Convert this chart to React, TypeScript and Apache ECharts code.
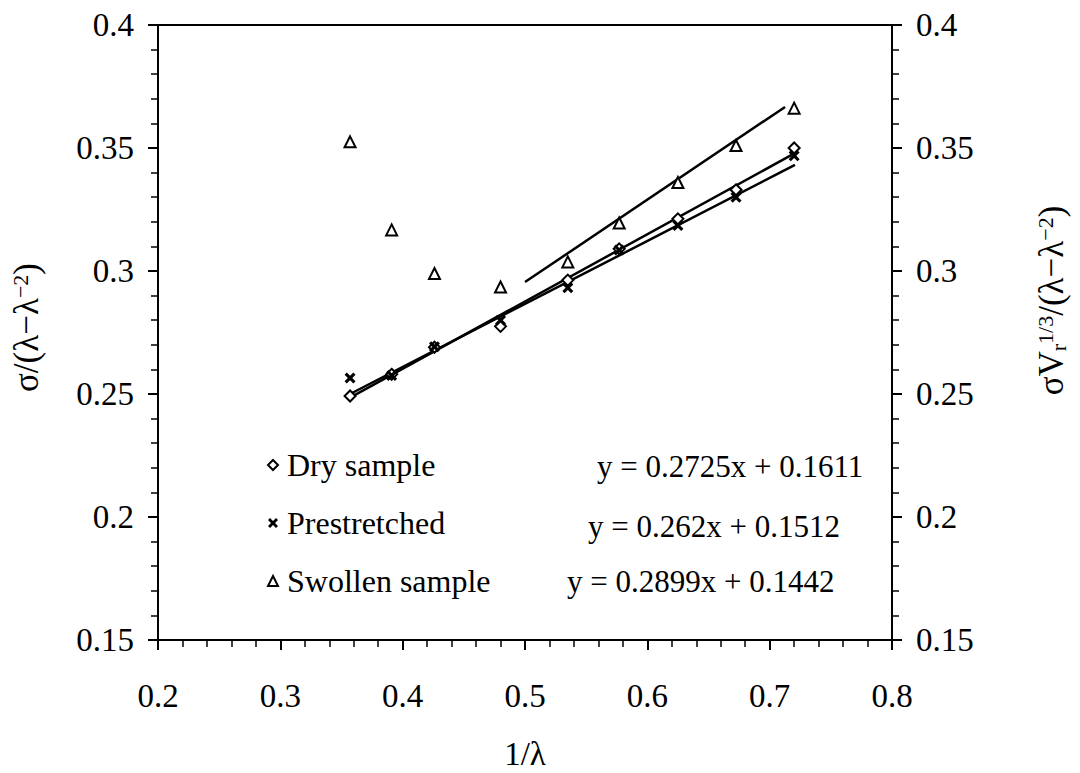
import React, { useEffect, useRef } from "react";
import * as echarts from "echarts";

const xValues = [0.357, 0.391, 0.426, 0.48, 0.535, 0.577, 0.625, 0.6725, 0.72];
const drySample = [0.2492, 0.258, 0.269, 0.2775, 0.2963, 0.309, 0.3212, 0.333, 0.35];
const prestretched = [0.2565, 0.2575, 0.2692, 0.28, 0.2932, 0.3085, 0.3185, 0.33, 0.3468];
const swollenSample = [0.3525, 0.3167, 0.299, 0.2935, 0.3037, 0.3195, 0.336, 0.351, 0.3662];

const dryFitX = [0.357, 0.718];
const dryFitY = [0.2485, 0.3472];
const preFitX = [0.357, 0.7207];
const preFitY = [0.25, 0.3431];
const swollenFitX = [0.5, 0.7126];
const swollenFitY = [0.2955, 0.3667];

const seriesNames = ["Dry sample", "Prestretched", "Swollen sample"];
const equations = ["y = 0.2725x + 0.1611", "y = 0.262x + 0.1512", "y = 0.2899x + 0.1442"];

const FONT = "'Liberation Serif', 'Times New Roman', serif";
const X_MARK = "path://M0,2 L2,0 L5,3 L8,0 L10,2 L7,5 L10,8 L8,10 L5,7 L2,10 L0,8 L3,5 Z";

const pairs = (xs: number[], ys: number[]) => xs.map((x, i) => [x, ys[i]]);

export default function App() {
  const ref = useRef<HTMLDivElement>(null);
  useEffect(() => {
    const chart = echarts.init(ref.current!, null, { renderer: "svg" });
    const axisLabel = { color: "#000", fontFamily: FONT, fontSize: 33 };
    const yAxisBase = {
      type: "value",
      min: 0.15,
      max: 0.4,
      interval: 0.05,
      splitLine: { show: false },
      axisLine: { show: true, lineStyle: { color: "#000", width: 2 } },
      axisTick: { show: true, length: 10, lineStyle: { color: "#000", width: 2 } },
      minorTick: { show: true, splitNumber: 5, length: 7, lineStyle: { color: "#000", width: 1.5 } },
      axisLabel: { ...axisLabel, margin: 24 },
    };
    const lineSeries = (xs: number[], ys: number[]) => ({
      type: "line",
      data: pairs(xs, ys),
      symbol: "none",
      lineStyle: { color: "#000", width: 2.5 },
      z: 2,
    });
    chart.setOption({
      animation: false,
      backgroundColor: "#fff",
      grid: {
        left: 158,
        right: 188,
        top: 25,
        bottom: 133,
        show: true,
        borderColor: "#000",
        borderWidth: 2,
        containLabel: false,
        outerBoundsMode: "none",
      },
      xAxis: {
        type: "value",
        min: 0.2,
        max: 0.8,
        interval: 0.1,
        splitLine: { show: false },
        axisLine: { show: true, lineStyle: { color: "#000", width: 2 } },
        axisTick: { show: true, length: 10, lineStyle: { color: "#000", width: 2 } },
        minorTick: { show: true, splitNumber: 5, length: 7, lineStyle: { color: "#000", width: 1.5 } },
        axisLabel: { ...axisLabel, margin: 39 },
        name: "1/λ",
        nameLocation: "middle",
        nameGap: 99,
        nameTextStyle: { color: "#000", fontFamily: FONT, fontSize: 33, lineHeight: 30 },
      },
      yAxis: [
        {
          ...yAxisBase,
          position: "left",
          name: "σ/(λ−λ{sup|−2})",
          nameLocation: "middle",
          nameGap: 114,
          nameTextStyle: {
            color: "#000",
            fontFamily: FONT,
            fontSize: 35,
            padding: [0, 0, 0, 10],
            rich: { sup: { fontFamily: FONT, fontSize: 22, color: "#000", verticalAlign: "top" } },
          },
        },
        {
          ...yAxisBase,
          position: "right",
          name: "σV{sub|r}{sup|1/3}/(λ−λ{sup|−2})",
          nameLocation: "middle",
          nameGap: 142,
          nameTextStyle: {
            color: "#000",
            fontFamily: FONT,
            fontSize: 35,
            padding: [0, 0, 0, 64],
            rich: {
              sup: { fontFamily: FONT, fontSize: 22, color: "#000", verticalAlign: "top" },
              sub: { fontFamily: FONT, fontSize: 22, color: "#000", verticalAlign: "bottom" },
            },
          },
        },
      ],
      legend: {
        data: seriesNames,
        orient: "vertical",
        left: 262,
        top: 443,
        itemWidth: 10,
        itemHeight: 10,
        itemGap: 24,
        textStyle: { color: "#000", fontFamily: FONT, fontSize: 32, lineHeight: 34, padding: [0, 0, 0, 4] },
      },
      graphic: equations.map((t, i) => ({
        type: "text",
        left: [597, 588, 567][i],
        top: [451, 511, 566][i],
        style: { text: t, fill: "#000", font: `31px ${FONT}` },
      })),
      series: [
        lineSeries(dryFitX, dryFitY),
        lineSeries(preFitX, preFitY),
        lineSeries(swollenFitX, swollenFitY),
        {
          name: seriesNames[0],
          type: "scatter",
          data: pairs(xValues, drySample),
          symbol: "diamond",
          symbolSize: 11,
          itemStyle: { color: "#fff", borderColor: "#000", borderWidth: 2, opacity: 1 },
          z: 3,
        },
        {
          name: seriesNames[1],
          type: "scatter",
          data: pairs(xValues, prestretched),
          symbol: X_MARK,
          symbolSize: 11,
          itemStyle: { color: "#000", opacity: 1 },
          z: 4,
        },
        {
          name: seriesNames[2],
          type: "scatter",
          data: pairs(xValues, swollenSample),
          symbol: "triangle",
          symbolSize: 11,
          itemStyle: { color: "#fff", borderColor: "#000", borderWidth: 2, opacity: 1 },
          z: 5,
        },
      ],
    });
    return () => chart.dispose();
  }, []);
  return (
    <div
      ref={ref}
      style={{ position: "fixed", left: 0, top: 0, width: 1080, height: 773, background: "#fff" }}
    />
  );
}
